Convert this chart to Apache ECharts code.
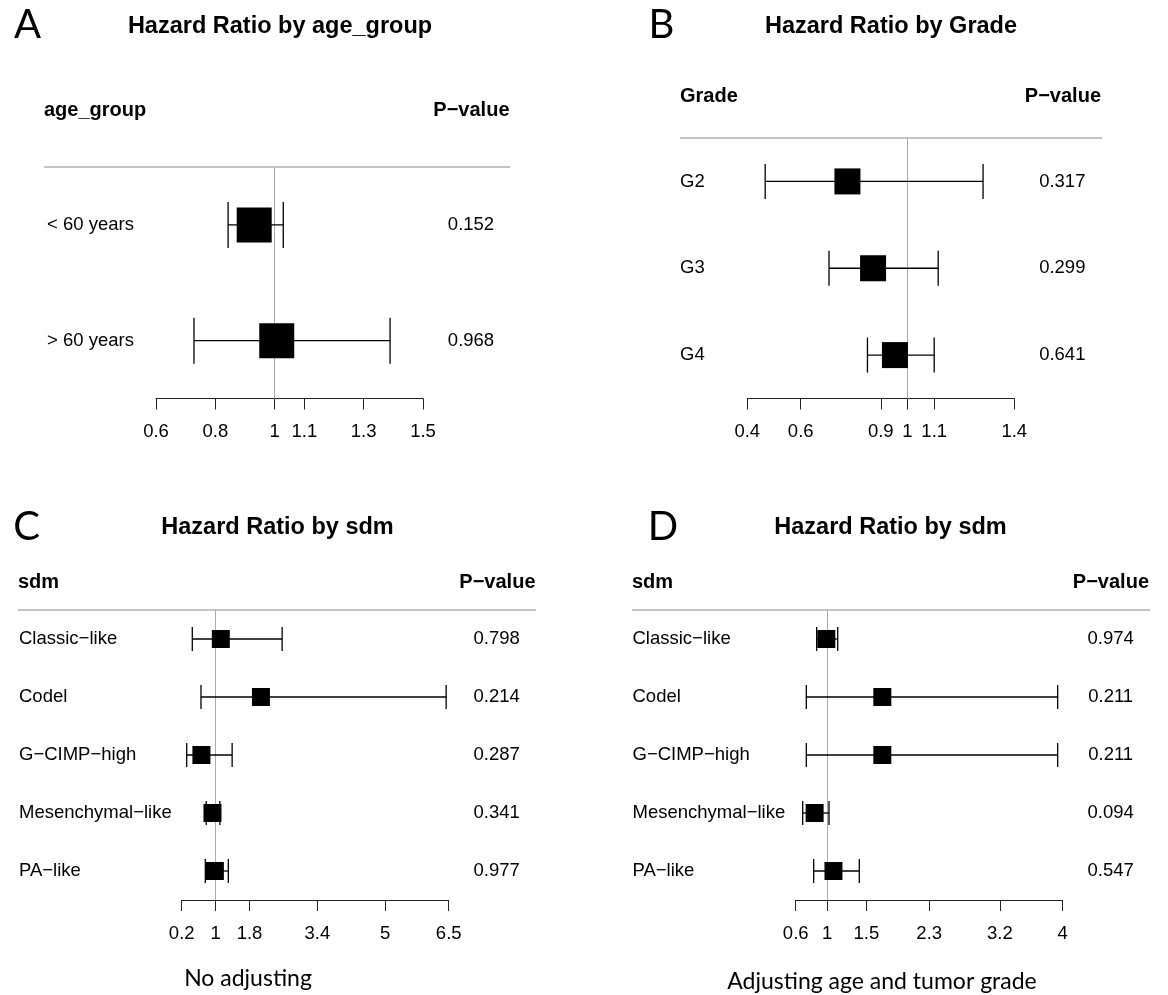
<!DOCTYPE html>
<html>
<head>
<meta charset="utf-8">
<title>Hazard ratio forest plots</title>
<script src="https://cdn.jsdelivr.net/npm/echarts@6/dist/echarts.min.js"></script>
<style>
  html, body { margin: 0; background: #fff; }
  #chart { width: 1168px; height: 995px; }
</style>
</head>
<body>
<div id="chart"></div>
<script>
// panel A - age group
const ageLabels = ["< 60 years", "> 60 years"];
const ageHR = [0.931, 1.007];
const ageLower = [0.843, 0.728];
const ageUpper = [1.029, 1.389];
const ageP = ["0.152", "0.968"];
const ageTicks = [0.6, 0.8, 1, 1.1, 1.3, 1.5];

// panel B - grade
const gradeLabels = ["G2", "G3", "G4"];
const gradeHR = [0.775, 0.871, 0.953];
const gradeLower = [0.467, 0.706, 0.85];
const gradeUpper = [1.283, 1.115, 1.1];
const gradeP = ["0.317", "0.299", "0.641"];
const gradeTicks = [0.4, 0.6, 0.9, 1, 1.1, 1.4];

// panels C and D - sdm subtypes
const sdmLabels = ["Classic\u2212like", "Codel", "G\u2212CIMP\u2212high", "Mesenchymal\u2212like", "PA\u2212like"];

const sdmHR = [1.123, 2.07, 0.665, 0.926, 0.983];
const sdmLower = [0.45, 0.655, 0.318, 0.78, 0.757];
const sdmUpper = [2.57, 6.44, 1.39, 1.1, 1.3];
const sdmP = ["0.798", "0.214", "0.287", "0.341", "0.977"];
const sdmTicks = [0.2, 1, 1.8, 3.4, 5, 6.5];

const adjHR = [0.99, 1.703, 1.703, 0.841, 1.081];
const adjLower = [0.867, 0.735, 0.735, 0.689, 0.829];
const adjUpper = [1.135, 3.936, 3.936, 1.024, 1.41];
const adjP = ["0.974", "0.211", "0.211", "0.094", "0.547"];
const adjTicks = [0.6, 1, 1.5, 2.3, 3.2, 4];

const FONT = '"Liberation Sans", Arial, sans-serif';
const THIN_FONT = 'Lato, "Open Sans", sans-serif';

const panels = [
  {
    letter: "A", title: "Hazard Ratio by age_group", header: "age_group", caption: "",
    labels: ageLabels, hr: ageHR, lower: ageLower, upper: ageUpper, p: ageP, ticks: ageTicks,
    grid: { left: 156, top: 167, width: 267, height: 231.5 },
    letterXY: [27.5, 25], titleXY: [280, 27], headerY: 110, lineX: [44, 510], pRight: 509.5,
    rowX: 47, box: 35, cap: 46,
  },
  {
    letter: "B", title: "Hazard Ratio by Grade", header: "Grade", caption: "",
    labels: gradeLabels, hr: gradeHR, lower: gradeLower, upper: gradeUpper, p: gradeP, ticks: gradeTicks,
    grid: { left: 747.3, top: 138, width: 267, height: 260.5 },
    letterXY: [661.5, 25], titleXY: [891, 27], headerY: 96, lineX: [680, 1102], pRight: 1101,
    rowX: 680, box: 26, cap: 35,
  },
  {
    letter: "C", title: "Hazard Ratio by sdm", header: "sdm", caption: "No adjusting",
    labels: sdmLabels, hr: sdmHR, lower: sdmLower, upper: sdmUpper, p: sdmP, ticks: sdmTicks,
    grid: { left: 181.7, top: 610, width: 267, height: 290 },
    letterXY: [26.5, 527], titleXY: [277.5, 528], headerY: 582, lineX: [18, 536], pRight: 535.5,
    rowX: 19, box: 18, cap: 24, captionXY: [248, 979],
  },
  {
    letter: "D", title: "Hazard Ratio by sdm", header: "sdm", caption: "Adjusting age and tumor grade",
    labels: sdmLabels, hr: adjHR, lower: adjLower, upper: adjUpper, p: adjP, ticks: adjTicks,
    grid: { left: 795.7, top: 610, width: 267, height: 290 },
    letterXY: [663, 527], titleXY: [890.5, 528], headerY: 582, lineX: [632, 1150], pRight: 1149,
    rowX: 632.5, box: 18, cap: 24, captionXY: [882, 981.5],
  },
];

const grids = [];
const xAxes = [];
const yAxes = [];
const series = [];
const graphic = [];

const labelStyle = { fontSize: 18.5, fontFamily: FONT, color: "#000" };

panels.forEach((pn, i) => {
  const n = pn.labels.length;
  grids.push(Object.assign({ outerBoundsMode: "none", containLabel: false }, pn.grid));

  xAxes.push({
    type: "value",
    gridIndex: i,
    min: pn.ticks[0],
    max: pn.ticks[pn.ticks.length - 1],
    position: "bottom",
    splitLine: { show: false },
    axisLine: { show: true, onZero: false, lineStyle: { color: "#222", width: 1 } },
    axisTick: { show: true, customValues: pn.ticks, length: 11, lineStyle: { color: "#222", width: 1 } },
    axisLabel: Object.assign({ customValues: pn.ticks, margin: 24, hideOverlap: false }, labelStyle),
  });

  // row labels (left) and p-values (right) as category axes
  yAxes.push({
    type: "category",
    gridIndex: i,
    data: pn.labels,
    inverse: true,
    position: "left",
    axisLine: { show: false, onZero: false },
    axisTick: { show: false },
    splitLine: { show: false },
    axisLabel: Object.assign({ interval: 0, align: "left", margin: pn.grid.left - pn.rowX }, labelStyle),
  });
  yAxes.push({
    type: "category",
    gridIndex: i,
    data: pn.p,
    inverse: true,
    position: "right",
    axisLine: { show: false, onZero: false },
    axisTick: { show: false },
    splitLine: { show: false },
    axisLabel: Object.assign({ interval: 0, align: "center", margin: 48 }, labelStyle),
  });
  // hidden numeric row axis the marks are drawn on (row k at band centre)
  yAxes.push({
    type: "value",
    gridIndex: i,
    show: false,
    inverse: true,
    min: -0.5,
    max: n - 0.5,
    axisLine: { onZero: false },
    splitLine: { show: false },
  });
  const yIdx = i * 3 + 2;

  const cap = pn.cap;
  series.push({
    type: "custom",
    coordinateSystem: "cartesian2d",
    xAxisIndex: i,
    yAxisIndex: yIdx,
    silent: true,
    z: 4,
    data: pn.labels.map((_, k) => [pn.lower[k], k, pn.upper[k]]),
    encode: { x: [0, 2], y: 1 },
    renderItem: (params, api) => {
      const a = api.coord([api.value(0), api.value(1)]);
      const b = api.coord([api.value(2), api.value(1)]);
      const st = { stroke: "#000", lineWidth: 1.3 };
      return {
        type: "group",
        children: [
          { type: "line", shape: { x1: a[0], y1: a[1], x2: b[0], y2: b[1] }, style: st },
          { type: "line", shape: { x1: a[0], y1: a[1] - cap / 2, x2: a[0], y2: a[1] + cap / 2 }, style: st },
          { type: "line", shape: { x1: b[0], y1: b[1] - cap / 2, x2: b[0], y2: b[1] + cap / 2 }, style: st },
        ],
      };
    },
    // reference line at HR = 1, kept beneath the whiskers and boxes
    markLine: {
      silent: true,
      z: 1,
      symbol: "none",
      label: { show: false },
      lineStyle: { color: "#aaa", type: "solid", width: 1 },
      data: [{ xAxis: 1 }],
    },
  });

  series.push({
    type: "scatter",
    xAxisIndex: i,
    yAxisIndex: yIdx,
    silent: true,
    z: 10,
    symbol: "rect",
    symbolSize: [pn.box, pn.box],
    itemStyle: { color: "#000", opacity: 1 },
    data: pn.hr.map((v, k) => [v, k]),
  });

  // panel letter, title, table header and rule
  graphic.push(
    {
      type: "text", x: pn.letterXY[0], y: pn.letterXY[1], silent: true,
      style: { text: pn.letter, font: "normal 40px " + THIN_FONT, fill: "#000", align: "center", verticalAlign: "middle" },
    },
    {
      type: "text", x: pn.titleXY[0], y: pn.titleXY[1], silent: true,
      style: { text: pn.title, font: "bold 23.5px " + FONT, fill: "#000", align: "center", verticalAlign: "middle" },
    },
    {
      type: "text", x: pn.lineX[0], y: pn.headerY, silent: true,
      style: { text: pn.header, font: "bold 20px " + FONT, fill: "#000", align: "left", verticalAlign: "middle" },
    },
    {
      type: "text", x: pn.pRight, y: pn.headerY, silent: true,
      style: { text: "P\u2212value", font: "bold 20px " + FONT, fill: "#000", align: "right", verticalAlign: "middle" },
    },
    {
      type: "line", silent: true,
      shape: { x1: pn.lineX[0], y1: pn.grid.top, x2: pn.lineX[1], y2: pn.grid.top },
      style: { stroke: "#888", lineWidth: 1 },
    }
  );
  if (pn.caption) {
    graphic.push({
      type: "text", x: pn.captionXY[0], y: pn.captionXY[1], silent: true,
      style: { text: pn.caption, font: "normal 23px " + THIN_FONT, fill: "#000", align: "center", verticalAlign: "middle" },
    });
  }
});

const chart = echarts.init(document.getElementById("chart"), null, { renderer: "canvas" });
chart.setOption({
  animation: false,
  backgroundColor: "#fff",
  grid: grids,
  xAxis: xAxes,
  yAxis: yAxes,
  series: series,
  graphic: graphic,
});
</script>
</body>
</html>
